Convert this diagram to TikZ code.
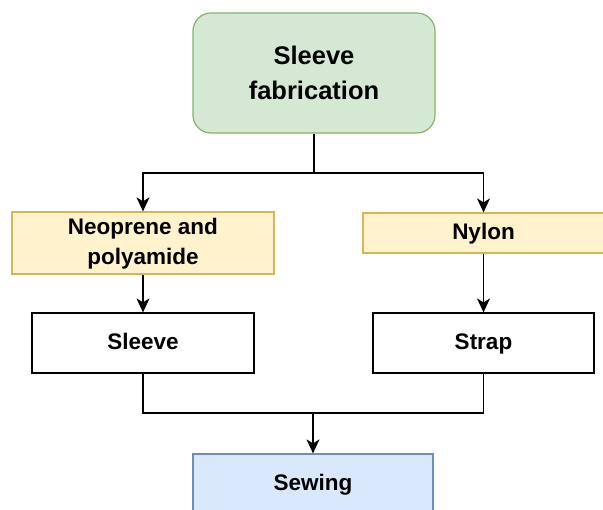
\documentclass[tikz,border=0pt]{standalone}
\usepackage{fontspec}
\setmainfont{Liberation Sans}
\usetikzlibrary{arrows.meta}
\definecolor{greenfill}{HTML}{D5E8D4}
\definecolor{greenline}{HTML}{82B366}
\definecolor{yellowfill}{HTML}{FFF2CC}
\definecolor{yellowline}{HTML}{D6B656}
\definecolor{bluefill}{HTML}{DAE8FC}
\definecolor{blueline}{HTML}{6C8EBF}
\tikzset{
  box/.style={draw, line width=1.2pt, align=center, inner sep=0pt,
    text depth=3pt, font=\bfseries\fontsize{22.5}{30}\selectfont},
  head/.style={box, rounded corners=18pt, fill=greenfill, draw=greenline,
    text depth=0pt, font=\bfseries\fontsize{25.5}{35}\selectfont},
  material/.style={box, fill=yellowfill, draw=yellowline},
  part/.style={box, fill=white, draw=black},
  joined/.style={box, fill=bluefill, draw=blueline},
  flow/.style={line width=1.4pt, -{Stealth[length=14pt,width=13pt,inset=4pt]}}
}
\begin{document}
\begin{tikzpicture}[x=1pt,y=-1pt]
      \useasboundingbox (0,0) rectangle (603,510);
      \clip (0,0) rectangle (603,510);
      \draw
        (314,73) node[head, minimum width=242pt, minimum height=120pt] (0){Sleeve\\fabrication}
        (143,243) node[material, minimum width=262pt, minimum height=62pt] (1){Neoprene and\\polyamide}
        (483.5,233) node[material, minimum width=241pt, minimum height=40pt] (2){Nylon}
        (143,343) node[part, minimum width=222pt, minimum height=60pt] (3){Sleeve}
        (483.5,343) node[part, minimum width=221pt, minimum height=60pt] (4){Strap}
        (313,484) node[joined, minimum width=240pt, minimum height=60pt] (5){Sewing};
      \coordinate (a) at (314,173);
      \coordinate (b) at (313,413);
      \begin{scope}[flow]
        \draw[-] (0) to (a);
        \draw (a) -| (1);
        \draw (a) -| (2);
        \draw (1) to (3);
        \draw (2) to (4);
        \draw[-] (3) |- (b);
        \draw[-] (4) |- (b);
        \draw (b) to (5);
      \end{scope}
    \end{tikzpicture}
\end{document}
